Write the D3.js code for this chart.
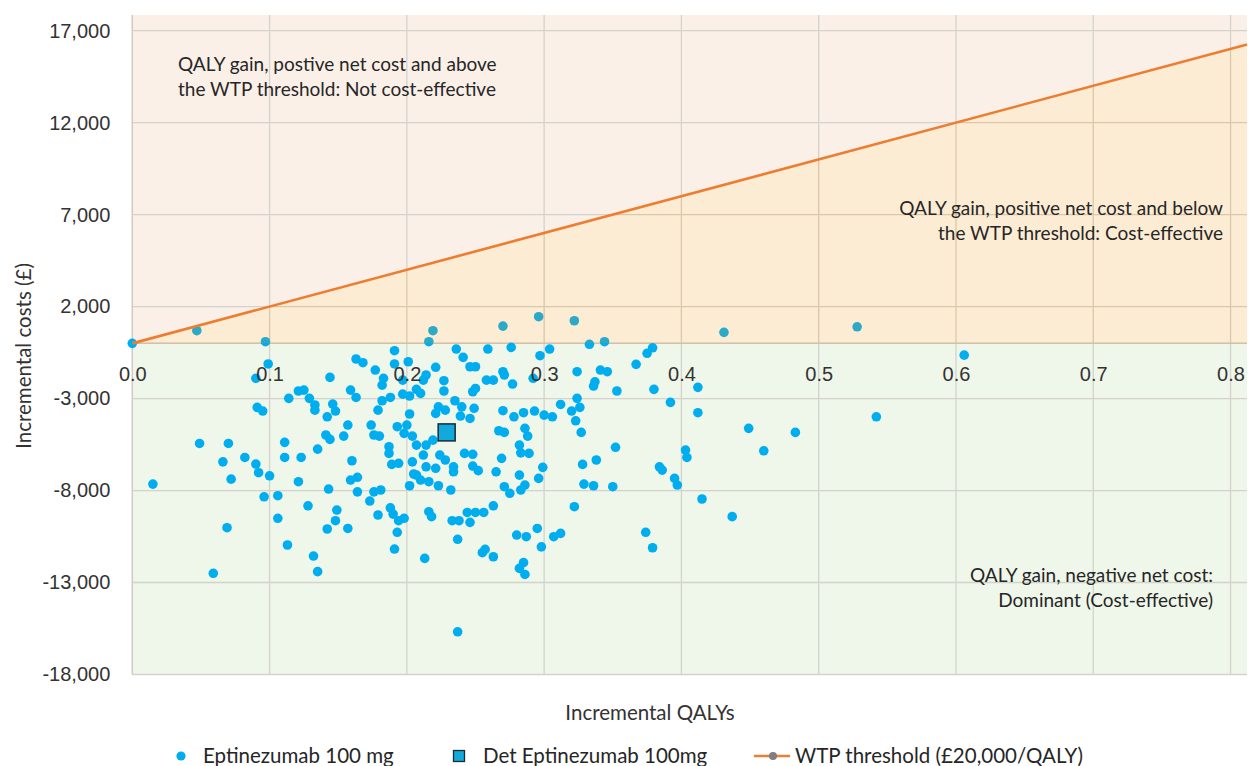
<!DOCTYPE html>
<html>
<head>
<meta charset="utf-8">
<script src="https://cdn.jsdelivr.net/npm/d3@7"></script>
<style>
  body { margin: 0; background: #fff; }
  svg { display: block; font-family: Lato, "Open Sans", sans-serif; }
  .tick text { fill: #333; font-size: 20px; }
  .note { fill: #262626; font-size: 19px; }
</style>
</head>
<body>
<svg width="1248" height="766"></svg>
<script>
// PSA samples: [incremental QALYs, incremental costs (£)]
var psaSamples = [
  [0.000,0],[0.047,690],[0.097,90],[0.099,-1120],[0.090,-1900],[0.191,-400],[0.163,-850],[0.168,-1050],
  [0.177,-1450],[0.191,-1120],[0.201,-1000],[0.183,-1900],[0.144,-1850],[0.182,-2270],[0.197,-2000],
  [0.121,-2590],[0.125,-2540],[0.159,-2540],[0.163,-2940],[0.114,-2990],[0.129,-2990],[0.133,-3350],
  [0.133,-3630],[0.146,-3300],[0.148,-3680],[0.142,-3990],[0.091,-3480],[0.095,-3680],[0.182,-3120],
  [0.188,-2940],[0.179,-3630],[0.197,-2760],[0.202,-2860],[0.202,-3840],[0.193,-4530],[0.200,-4440],
  [0.198,-4890],[0.204,-5040],[0.157,-4440],[0.174,-4440],[0.176,-4980],[0.180,-5040],[0.154,-5040],
  [0.141,-4980],[0.144,-5220],[0.135,-5750],[0.111,-5380],[0.111,-6200],[0.123,-6200],[0.082,-6200],
  [0.049,-5440],[0.070,-5440],[0.066,-6440],[0.090,-6560],[0.092,-7030],[0.100,-7200],[0.072,-7380],
  [0.015,-7650],[0.121,-7520],[0.160,-6380],[0.187,-5620],[0.187,-5980],[0.189,-6580],[0.194,-6520],
  [0.204,-6440],[0.205,-7100],[0.202,-7740],[0.159,-7430],[0.164,-7280],[0.143,-7920],[0.164,-8070],
  [0.176,-8070],[0.181,-7970],[0.173,-8570],[0.096,-8340],[0.106,-8280],[0.128,-8830],[0.149,-9060],
  [0.148,-9640],[0.142,-10090],[0.157,-10060],[0.106,-9510],[0.069,-10020],[0.179,-9330],[0.188,-8940],
  [0.190,-9280],[0.194,-9640],[0.198,-9510],[0.193,-10270],[0.191,-11180],[0.113,-10960],[0.132,-11560],
  [0.135,-12410],[0.059,-12500],
  [0.219,690],[0.216,90],[0.270,940],[0.296,1450],[0.322,1230],[0.344,90],[0.333,-50],[0.236,-310],
  [0.241,-760],[0.259,-310],[0.276,-220],[0.304,-310],[0.297,-670],[0.246,-1270],[0.250,-1270],
  [0.221,-1300],[0.227,-2030],[0.214,-1720],[0.212,-2000],[0.227,-2590],[0.207,-2500],[0.210,-2720],
  [0.258,-2000],[0.263,-2000],[0.270,-1540],[0.271,-1720],[0.277,-2210],[0.292,-1900],[0.250,-2450],
  [0.248,-2630],[0.235,-3120],[0.223,-3450],[0.228,-3630],[0.221,-3810],[0.240,-3450],[0.249,-3530],
  [0.246,-4080],[0.239,-3950],[0.270,-3660],[0.278,-3990],[0.285,-3770],[0.293,-3680],[0.300,-3900],
  [0.306,-3990],[0.312,-3320],[0.320,-3680],[0.324,-2990],[0.326,-3480],[0.323,-4210],[0.327,-4840],
  [0.324,-1540],[0.336,-2320],[0.337,-2090],[0.341,-1450],[0.346,-1540],[0.353,-2590],[0.367,-1140],
  [0.375,-540],[0.379,-240],[0.380,-2500],[0.392,-3210],[0.412,-2390],[0.412,-3770],[0.415,-8460],
  [0.207,-5530],[0.214,-5530],[0.219,-5260],[0.212,-6070],[0.224,-6070],[0.228,-6340],[0.214,-6710],
  [0.221,-6790],[0.234,-6710],[0.234,-6980],[0.242,-5980],[0.248,-6030],[0.248,-6670],[0.252,-6920],
  [0.207,-7160],[0.210,-7430],[0.216,-7520],[0.223,-7740],[0.232,-7970],[0.267,-4750],[0.271,-4840],
  [0.269,-6250],[0.265,-6980],[0.271,-7790],[0.275,-8150],[0.282,-7160],[0.282,-5530],[0.283,-5950],
  [0.289,-5980],[0.286,-4620],[0.288,-5040],[0.286,-7700],[0.283,-7970],[0.299,-6740],[0.296,-7340],
  [0.322,-8880],[0.328,-6580],[0.338,-6340],[0.329,-7650],[0.336,-7740],[0.350,-7790],[0.352,-5650],
  [0.384,-6710],[0.386,-6890],[0.403,-5800],[0.404,-6200],[0.395,-7340],[0.397,-7700],[0.216,-9150],
  [0.218,-9420],[0.233,-9640],[0.238,-9640],[0.246,-9730],[0.244,-9190],[0.250,-9190],[0.256,-9190],
  [0.263,-8830],[0.237,-10650],[0.213,-11690],[0.255,-11380],[0.257,-11200],[0.263,-11600],[0.280,-10420],
  [0.287,-10510],[0.295,-10060],[0.298,-11060],[0.307,-10510],[0.312,-10330],[0.285,-11920],[0.282,-12230],
  [0.286,-12560],[0.374,-10270],[0.379,-11110],[0.237,-15680],
  [0.431,600],[0.449,-4620],[0.483,-4840],[0.460,-5840],[0.437,-9420],[0.528,900],[0.606,-640],[0.542,-3990]
];
var detPoint = [0.229, -4840];
var wtpQalys = [0, 0.812];
var wtpCosts = [0, 16240];
var xTicks = [0, 0.1, 0.2, 0.3, 0.4, 0.5, 0.6, 0.7, 0.8];
var yTicks = [-18000, -13000, -8000, -3000, 2000, 7000, 12000, 17000];
var legendLabels = ["Eptinezumab 100 mg", "Det Eptinezumab 100mg", "WTP threshold (\u00a320,000/QALY)"];

var svg = d3.select("svg");
var plotLeft = 132.3, plotRight = 1247, plotTop = 15, plotBottom = 674.5;
var xMax = 0.812, yMin = -18000, yMax = 17850;

var x = d3.scaleLinear().domain([0, xMax]).range([plotLeft, plotRight]);
var y = d3.scaleLinear().domain([yMin, yMax]).range([plotBottom, plotTop]);

// quadrant backgrounds
svg.append("rect").attr("x", x(0)).attr("y", y(0))
  .attr("width", x(xMax) - x(0)).attr("height", y(yMin) - y(0))
  .attr("fill", "#eff6ea");
svg.append("path")
  .attr("d", "M" + x(0) + "," + y(0) + "L" + x(0) + "," + y(yMax) + "L" + x(xMax) + "," + y(yMax) +
    "L" + x(wtpQalys[1]) + "," + y(wtpCosts[1]) + "Z")
  .attr("fill", "#fbf0e8");

// gridlines
svg.append("g").selectAll("line").data(xTicks.slice(1)).enter().append("line")
  .attr("x1", d => x(d)).attr("x2", d => x(d))
  .attr("y1", plotTop).attr("y2", plotBottom)
  .attr("stroke", "#d3d3cc").attr("stroke-width", 1.3);
svg.append("g").selectAll("line").data(yTicks).enter().append("line")
  .attr("x1", plotLeft).attr("x2", plotRight)
  .attr("y1", d => y(d)).attr("y2", d => y(d))
  .attr("stroke", "#d3d3cc").attr("stroke-width", 1.3);
// axis lines
svg.append("line").attr("x1", x(0)).attr("x2", x(0)).attr("y1", plotTop).attr("y2", plotBottom)
  .attr("stroke", "#cfcac2").attr("stroke-width", 1.5);
svg.append("line").attr("x1", plotLeft).attr("x2", plotRight).attr("y1", y(0)).attr("y2", y(0))
  .attr("stroke", "#d2c4b6").attr("stroke-width", 1.5);

// PSA points
svg.append("g").selectAll("circle").data(psaSamples).enter().append("circle")
  .attr("cx", d => x(d[0])).attr("cy", d => y(d[1]))
  .attr("r", 4.8).attr("fill", "#00aeef");

// region between threshold and zero cost (drawn over points)
svg.append("path")
  .attr("d", "M" + x(0) + "," + y(0) + "L" + x(wtpQalys[1]) + "," + y(wtpCosts[1]) +
    "L" + x(xMax) + "," + y(0) + "Z")
  .attr("fill", "rgb(245,150,15)").attr("fill-opacity", 0.18);

// WTP threshold line
svg.append("path").datum(d3.zip(wtpQalys, wtpCosts))
  .attr("d", d3.line().x(d => x(d[0])).y(d => y(d[1])))
  .attr("fill", "none").attr("stroke", "#ed7d31").attr("stroke-width", 2.6);

// deterministic result
svg.append("rect")
  .attr("x", x(detPoint[0]) - 8.5).attr("y", y(detPoint[1]) - 8.5)
  .attr("width", 17).attr("height", 17)
  .attr("fill", "#12a9dc").attr("stroke", "#1b2a33").attr("stroke-width", 1.5);

// axes
var fmtCost = function (d) { return d3.format(",")(d).replace("\u2212", "-"); };
var xAxis = svg.append("g").attr("transform", "translate(0," + y(0) + ")")
  .call(d3.axisBottom(x).tickValues(xTicks).tickFormat(d3.format(".1f")).tickSize(0).tickPadding(23));
xAxis.select(".domain").remove();
var yAxis = svg.append("g").attr("transform", "translate(" + plotLeft + ",0)")
  .call(d3.axisLeft(y).tickValues(yTicks).tickFormat(fmtCost).tickSize(0).tickPadding(22));
yAxis.select(".domain").remove();
svg.selectAll(".tick text").attr("font-family", null);
svg.selectAll(".tick text").attr("font-size", null);

// axis titles
svg.append("text").attr("x", 650).attr("y", 720).attr("text-anchor", "middle")
  .attr("fill", "#333").attr("font-size", 20.5).text("Incremental QALYs");
svg.append("text").attr("transform", "translate(31,356) rotate(-90)").attr("text-anchor", "middle")
  .attr("fill", "#333").attr("font-size", 20.5).text("Incremental costs (\u00a3)");

// quadrant notes
function note(lines, xPos, yPos, anchor) {
  var t = svg.append("text").attr("class", "note").attr("text-anchor", anchor);
  lines.forEach(function (l, i) {
    t.append("tspan").attr("x", xPos).attr("y", yPos + i * 25).text(l);
  });
}
note(["QALY gain, postive net cost and above", "the WTP threshold: Not cost-effective"], 178, 71, "start");
note(["QALY gain, positive net cost and below", "the WTP threshold: Cost-effective"], 1223, 215, "end");
note(["QALY gain, negative net cost:", "Dominant (Cost-effective)"], 1213, 582, "end");

// legend
var ly = 756;
svg.append("circle").attr("cx", 181).attr("cy", ly).attr("r", 4.6).attr("fill", "#00aeef");
svg.append("rect").attr("x", 453.5).attr("y", ly - 5.5).attr("width", 11).attr("height", 11)
  .attr("fill", "#12a9dc").attr("stroke", "#1b2a33").attr("stroke-width", 1.3);
svg.append("line").attr("x1", 754).attr("x2", 790).attr("y1", ly).attr("y2", ly)
  .attr("stroke", "#ed7d31").attr("stroke-width", 2.6);
svg.append("circle").attr("cx", 773).attr("cy", ly).attr("r", 4).attr("fill", "#7f7f7f");
var lx = [203, 483, 795];
legendLabels.forEach(function (l, i) {
  svg.append("text").attr("x", lx[i]).attr("y", ly + 6.5).attr("fill", "#262626")
    .attr("font-size", 20.5).text(l);
});
</script>
</body>
</html>
